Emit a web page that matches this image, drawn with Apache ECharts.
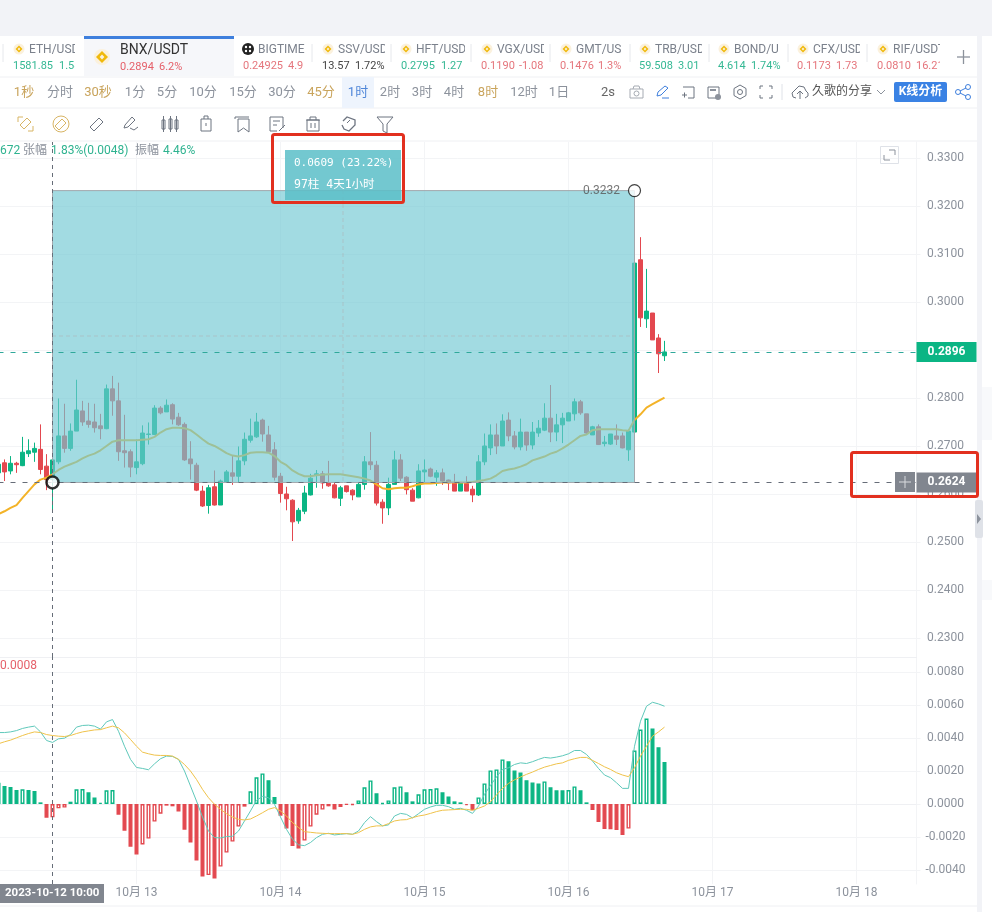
<!DOCTYPE html>
<html>
<head>
<meta charset="utf-8">
<style>html,body{margin:0;padding:0;background:#fff}#chart{width:992px;height:912px}</style>
<script src="https://cdn.jsdelivr.net/npm/echarts@6/dist/echarts.min.js"></script>
</head>
<body>
<div id="chart"></div>
<script>
// hourly candles, first one is 2023-10-12 01:00 (just off the left edge)
const opens = [
  .2644,.2665,.2648,.2664,.2659,.2684,.2687,.2693,.2658,.2630,
  .2667,.2721,.2695,.2731,.2773,.2752,.2750,.2742,.2736,.2819,
  .2794,.2690,.2688,.2655,.2663,.2724,.2724,.2779,.2771,.2786,
  .2760,.2745,.2673,.2660,.2606,.2576,.2615,.2577,.2625,.2644,
  .2637,.2669,.2712,.2719,.2754,.2723,.2692,.2637,.2600,.2587,
  .2544,.2564,.2598,.2639,.2642,.2623,.2619,.2591,.2617,.2608,
  .2594,.2620,.2667,.2660,.2583,.2571,.2620,.2671,.2635,.2608,
  .2592,.2646,.2652,.2635,.2644,.2629,.2623,.2606,.2622,.2610,
  .2598,.2667,.2696,.2723,.2700,.2754,.2721,.2698,.2729,.2702,
  .2727,.2733,.2758,.2729,.2744,.2752,.2767,.2792,.2767,.2723,
  .2740,.2705,.2704,.2721,.2721,.2692,.2729,.3088,.2965,.2977,.2925,.2888
];
const closes = [
  .2662,.2646,.2664,.2661,.2687,.2690,.2695,.2651,.2630,.2671,
  .2721,.2695,.2731,.2775,.2750,.2745,.2738,.2736,.2819,.2794,
  .2688,.2686,.2656,.2667,.2727,.2725,.2779,.2769,.2785,.2756,
  .2744,.2671,.2663,.2608,.2575,.2613,.2577,.2627,.2646,.2637,
  .2669,.2714,.2721,.2750,.2725,.2688,.2635,.2601,.2590,.2542,
  .2566,.2602,.2633,.2642,.2623,.2617,.2592,.2613,.2605,.2598,
  .2620,.2667,.2661,.2581,.2571,.2620,.2671,.2633,.2609,.2585,
  .2648,.2650,.2637,.2644,.2627,.2623,.2606,.2623,.2606,.2598,
  .2667,.2700,.2723,.2700,.2752,.2721,.2698,.2729,.2702,.2729,
  .2737,.2758,.2729,.2744,.2758,.2769,.2792,.2769,.2727,.2740,
  .2703,.2708,.2725,.2714,.2696,.2731,.3081,.2967,.2981,.2921,.2892,.2896
];
const lows = [
  .2630,.2627,.2641,.2644,.2658,.2677,.2667,.2641,.2608,.2561,
  .2662,.2686,.2690,.2731,.2742,.2738,.2728,.2714,.2735,.2763,
  .2669,.2655,.2635,.2641,.2660,.2703,.2724,.2766,.2771,.2745,
  .2742,.2669,.2630,.2606,.2573,.2559,.2576,.2577,.2624,.2619,
  .2624,.2660,.2707,.2717,.2709,.2686,.2628,.2582,.2566,.2502,
  .2538,.2558,.2597,.2613,.2611,.2615,.2591,.2575,.2603,.2587,
  .2594,.2609,.2650,.2576,.2538,.2556,.2620,.2627,.2599,.2585,
  .2591,.2624,.2635,.2617,.2619,.2608,.2606,.2606,.2606,.2583,
  .2596,.2660,.2681,.2683,.2700,.2710,.2693,.2691,.2690,.2693,
  .2719,.2731,.2708,.2710,.2706,.2752,.2753,.2765,.2724,.2723,
  .2702,.2699,.2702,.2702,.2695,.2669,.2729,.2948,.2946,.2921,.2852,.2877
];
const highs = [
  .2669,.2672,.2679,.2667,.2719,.2714,.2707,.2745,.2683,.2674,
  .2799,.2788,.2747,.2838,.2794,.2790,.2788,.2767,.2828,.2846,
  .2832,.2765,.2693,.2714,.2743,.2749,.2785,.2783,.2797,.2789,
  .2769,.2749,.2710,.2665,.2617,.2619,.2649,.2630,.2650,.2679,
  .2699,.2728,.2757,.2769,.2757,.2742,.2708,.2644,.2615,.2589,
  .2571,.2617,.2642,.2650,.2648,.2669,.2624,.2617,.2617,.2610,
  .2624,.2679,.2729,.2669,.2589,.2634,.2690,.2683,.2637,.2612,
  .2662,.2672,.2655,.2650,.2653,.2630,.2642,.2625,.2637,.2617,
  .2681,.2726,.2745,.2747,.2766,.2770,.2731,.2757,.2729,.2750,
  .2754,.2789,.2827,.2767,.2769,.2771,.2799,.2796,.2767,.2742,
  .2745,.2721,.2725,.2745,.2728,.2735,.3083,.3135,.3069,.2977,.2933,.2919
];
const maLine = [
  .2558,.2564,.2571,.2577,.2592,.2606,.2620,.2630,.2634,.2641,
  .2650,.2657,.2662,.2667,.2674,.2680,.2684,.2691,.2700,.2709,
  .2712,.2712,.2712,.2712,.2713,.2714,.2719,.2728,.2735,.2738,
  .2738,.2737,.2733,.2724,.2714,.2705,.2700,.2693,.2685,.2680,
  .2678,.2681,.2686,.2687,.2687,.2686,.2679,.2667,.2660,.2649,
  .2642,.2637,.2637,.2639,.2640,.2641,.2641,.2641,.2639,.2637,
  .2635,.2632,.2628,.2620,.2612,.2610,.2612,.2613,.2613,.2616,
  .2620,.2622,.2622,.2623,.2624,.2624,.2624,.2624,.2624,.2625,
  .2627,.2629,.2632,.2639,.2648,.2651,.2653,.2657,.2662,.2670,
  .2674,.2678,.2684,.2688,.2695,.2703,.2712,.2721,.2724,.2733,
  .2735,.2735,.2735,.2735,.2733,.2732,.2754,.2766,.2780,.2787,.2794,.2801
];
const macdHist = [
  .00129,.00109,.00103,.00085,.00089,.00085,.00079,.0001,-.00083,-.00081,
  -.00026,-.00022,.00014,.00089,.00091,.00071,.0004,.00008,.00083,.00085,
  -.00065,-.00162,-.00259,-.00307,-.00246,-.0021,-.00107,-.00059,-.0001,-.00014,
  -.00046,-.00156,-.00234,-.00343,-.0044,-.00432,-.00452,-.0038,-.00295,-.00228,
  -.00137,-.00016,.00077,.00162,.00186,.00145,.00042,-.00071,-.00149,-.00255,
  -.00271,-.00222,-.00137,-.00065,-.00034,-.00014,-.00034,-.00018,-.00004,-.00006,
  .00022,.00101,.00143,.00065,.00006,.00022,.00101,.00107,.00071,.00016,
  .00059,.00089,.00091,.00095,.00071,.00046,.00016,.0001,-.00008,-.00038,
  .0004,.00125,.00204,.0021,.00271,.00259,.00204,.00192,.00145,.00131,
  .00125,.00137,.00101,.00083,.00083,.00085,.00107,.00083,.0001,-.00036,
  -.00109,-.00152,-.00154,-.00158,-.00188,-.00149,.00325,.00452,.00519,.00459,.00345,.00255
];
const dif = [
  .00434,.00434,.00438,.00446,.00459,.00467,.00473,.00438,.00386,.00374,
  .00396,.004,.00422,.00467,.00477,.00479,.00473,.00455,.00499,.00513,
  .00442,.00351,.00271,.00222,.00216,.00208,.00244,.00275,.00291,.00289,
  .00271,.002,.00109,.00018,-.00079,-.00164,-.00204,-.00206,-.00198,-.00196,
  -.00164,-.00103,-.00042,.00022,.00046,.00038,-.00002,-.00079,-.00154,-.00214,
  -.00248,-.00253,-.00234,-.00204,-.00184,-.00178,-.00188,-.00184,-.0018,-.00184,
  -.00164,-.00113,-.00077,-.00107,-.00133,-.00127,-.00073,-.00057,-.00063,-.00085,
  -.00059,-.00032,-.00018,-.00008,-.00008,-.00016,-.00032,-.00026,-.00038,-.00057,
  -.00012,.00059,.00113,.00164,.0021,.0022,.0024,.0025,.00246,.00257,
  .00271,.00283,.00279,.00285,.00293,.00305,.00325,.00325,.00301,.00261,
  .00216,.00176,.0016,.00129,.00095,.00095,.00351,.00503,.00594,.00618,.00608,.00594
];
const dea = [
  .00366,.00378,.00388,.00402,.00416,.00428,.00438,.00434,.00422,.00416,
  .00412,.0041,.00416,.00428,.00438,.00444,.0045,.00452,.00463,.00473,
  .00463,.00432,.00392,.00351,.00315,.00305,.00297,.00295,.00295,.00291,
  .00271,.0024,.002,.00149,.00089,.00038,-.00002,-.00032,-.00059,-.00079,
  -.00093,-.00097,-.00091,-.00073,-.00053,-.00032,-.00022,-.00042,-.00073,-.00113,
  -.00143,-.00168,-.00172,-.00176,-.00178,-.0018,-.0018,-.0018,-.0018,-.00184,
  -.00174,-.00154,-.00139,-.00133,-.00133,-.00119,-.00103,-.00097,-.00095,-.00083,
  -.00073,-.00067,-.00057,-.00046,-.00038,-.00036,-.00034,-.00032,-.00032,-.00038,
  -.00026,-.00012,.00014,.00055,.00095,.00125,.00147,.00164,.0018,.00194,
  .0021,.00224,.00234,.00244,.0025,.00265,.00275,.00283,.00283,.00265,
  .00246,.00226,.0021,.0019,.00176,.00166,.0022,.00291,.00351,.00412,.00438,.00467
];
const priceTicks = [.23,.24,.25,.26,.27,.28,.29,.30,.31,.32,.33];
const macdTicks = [-.004,-.002,0,.002,.004,.006,.008];

const tabs = [
  {icon: 19, name: "ETH/USD", price: "1581.85", chg: "1.58", tx: 13, cx: 59, col: "#35b894", cut: 75},
  {icon: 248, name: "BIGTIME", price: "0.24925", chg: "4.9", tx: 243, cx: 288, col: "#e5757c", cut: 305},
  {icon: 328, name: "SSV/USD", price: "13.57", chg: "1.72%", tx: 322, cx: 355, col: "#444", cut: 385},
  {icon: 406, name: "HFT/USD", price: "0.2795", chg: "1.27", tx: 401, cx: 441, col: "#35b894", cut: 465},
  {icon: 487, name: "VGX/USD", price: "0.1190", chg: "-1.08", tx: 481, cx: 519, col: "#e5757c", cut: 544},
  {icon: 566, name: "GMT/US", price: "0.1476", chg: "1.3%", tx: 560, cx: 598, col: "#e5757c", cut: 622},
  {icon: 645, name: "TRB/USD", price: "59.508", chg: "3.01", tx: 639, cx: 678, col: "#35b894", cut: 702},
  {icon: 724, name: "BOND/U", price: "4.614", chg: "1.74%", tx: 718, cx: 751, col: "#35b894", cut: 781},
  {icon: 803, name: "CFX/USD", price: "0.1173", chg: "1.73", tx: 797, cx: 836, col: "#e5757c", cut: 860},
  {icon: 883, name: "RIF/USDT", price: "0.0810", chg: "16.21", tx: 877, cx: 916, col: "#e5757c", cut: 940}
];
const intervals = [
  ["1秒", 24, "#c9a45c"], ["分时", 60, "#8c929c"], ["30秒", 98, "#c9a45c"], ["1分", 135, "#8c929c"],
  ["5分", 167, "#8c929c"], ["10分", 203, "#8c929c"], ["15分", 243, "#8c929c"], ["30分", 282, "#8c929c"],
  ["45分", 321, "#c9a45c"], ["1时", 358, "#4f86d8"], ["2时", 390, "#8c929c"], ["3时", 422, "#8c929c"],
  ["4时", 454, "#8c929c"], ["8时", 488, "#c9a45c"], ["12时", 524, "#8c929c"], ["1日", 559, "#8c929c"]
];

const FONT = 'Roboto, "Noto Sans CJK SC", sans-serif';
const GREEN = "#0bb584", RED = "#e3484f";

// one category per hour up to the right edge of the plot
const categories = Array.from({length: 154}, (_, i) => {
  const h = i + 1;
  const d = 12 + Math.floor(h / 24);
  return "2023-10-" + d + " " + String(h % 24).padStart(2, "0") + ":00";
});
const isMidnight = (idx, v) => v.endsWith(" 00:00");
const CROSS = categories[9];

const ohlc = opens.map((o, i) => [o, closes[i], lows[i], highs[i]]);

// hollow bar when the histogram rises against the previous hour
const histData = macdHist.map((v, i) => {
  const col = v >= 0 ? GREEN : RED;
  const hollow = i > 0 && v > macdHist[i - 1];
  return {value: v, itemStyle: {color: hollow ? "#fff" : col, borderColor: col, borderWidth: 1.4}};
});

// chrome helpers
const T = (text, x, y, fill, size = 12, extra = {}) => ({type: "text", z: 20, style: {
  text, x, y: y + 1, fill, font: (extra.bold ? "bold " : "") + size + "px " + (extra.font || FONT),
  textAlign: extra.align || "left", textVerticalAlign: "middle"}});
const R = (x, y, w, h, fill, stroke, lw = 1, z = 20) => ({type: "rect", z,
  shape: {x, y, width: w, height: h}, style: {fill: fill || null, stroke: stroke || null, lineWidth: lw}});
const C = (cx, cy, r, fill, stroke, lw = 1) => ({type: "circle", z: 20,
  shape: {cx, cy, r}, style: {fill: fill || null, stroke: stroke || null, lineWidth: lw}});
const L = (points, stroke, lw = 1, dash) => ({type: "polyline", z: 20, shape: {points},
  style: {stroke, lineWidth: lw, fill: null, lineDash: dash || null}});
const coin = (x, y, r) => [
  C(x, y, r + 2, "#fbf1dd"),
  {type: "polygon", z: 20, shape: {points: [[x, y - r], [x + r, y], [x, y + r], [x - r, y]]}, style: {fill: "#f0b90b"}},
  {type: "polygon", z: 20, shape: {points: [[x, y - r * .4], [x + r * .4, y], [x, y + r * .4], [x - r * .4, y]]}, style: {fill: "#fbf1dd"}}
];

const ICON = "#6d7480", GOLD = "#d8b565", BLUE = "#3f7fdd";
const g = [];
g.push(R(0, 0, 992, 36, "#f2f3f7"));
g.push(R(977, 36, 5, 876, "#f2f3f7"));
g.push(R(982, 387, 10, 53, "#f8f9fb"), R(982, 580, 10, 20, "#f8f9fb"));
g.push({type: "rect", z: 21, shape: {x: 975, y: 500, width: 8, height: 38, r: 2}, style: {fill: "#dfe2e8"}});
g.push({type: "polygon", z: 21, shape: {points: [[977, 514], [981, 519], [977, 524]]}, style: {fill: "#8c929c"}});

// tab strip
g.push(R(84, 36, 150, 40, "#f6f7fa"), R(84, 36, 150, 3, BLUE));
tabs.forEach(t => {
  if (t.name === "BIGTIME") {
    g.push(C(t.icon, 49, 6, "#222"), C(t.icon - 2, 47, 1.2, "#fff"), C(t.icon + 2, 47, 1.2, "#fff"), C(t.icon - 2, 51, 1.2, "#fff"), C(t.icon + 2, 51, 1.2, "#fff"));
  } else {
    g.push(...coin(t.icon, 49, 3.5));
  }
  g.push(T(t.name, t.icon + 10, 49, "#7b818c"), T(t.price, t.tx, 65, t.col, 11), T(t.chg, t.cx, 65, t.col, 11));
  g.push(R(t.cut, 40, 6, 32, "#fff"));
});
[3, 312, 391, 471, 550, 630, 709, 788, 867].forEach(x => g.push(L([[x, 44], [x, 62]], "#e6e8ec")));
g.push(...coin(102, 57, 6));
g.push(T("BNX/USDT", 120, 49, "#333", 14), T("0.2894", 120, 66, "#e5606a", 11), T("6.2%", 159, 66, "#e5606a", 11));
g.push(L([[957, 57], [970, 57]], "#8c929c", 1.3), L([[963.5, 50], [963.5, 64]], "#8c929c", 1.3));

// interval row
g.push(L([[0, 77], [977, 77]], "#eff0f3"), L([[0, 108], [977, 108]], "#eff0f3"), L([[0, 141], [977, 141]], "#eff0f3"));
g.push(R(342, 77, 32, 31, "#eef4fd"));
intervals.forEach(a => g.push(T(a[0], a[1], 92, a[2], 13, {align: "center"})));
g.push(T("2s", 608, 92, "#666", 13, {align: "center"}));
g.push(R(630, 89, 13, 9, null, "#a6abb3"), C(636.5, 93.5, 2.5, null, "#a6abb3"), L([[633, 89], [634, 86], [639, 86], [640, 89]], "#a6abb3"));
g.push(L([[657, 96], [658, 92], [665, 86], [668, 88], [661, 95], [657, 96]], BLUE), L([[662, 98], [669, 98]], BLUE));
g.push(L([[683, 87], [694, 87], [694, 98], [688, 98]], ICON), L([[682, 95], [687, 95]], ICON), L([[684.5, 92.5], [684.5, 97.5]], ICON));
g.push(R(708, 87, 11, 11, null, ICON), R(710, 89, 6, 2, "#8c929c"), C(718, 97, 3, "#8c929c"));
g.push(L([[740, 85], [746, 88.5], [746, 95.5], [740, 99], [734, 95.5], [734, 88.5], [740, 85]], ICON), C(740, 92, 2.5, null, ICON));
g.push(L([[760, 89], [760, 86], [763, 86]], ICON), L([[769, 86], [772, 86], [772, 89]], ICON), L([[760, 95], [760, 98], [763, 98]], ICON), L([[769, 98], [772, 98], [772, 95]], ICON));
g.push(L([[782, 84], [782, 100]], "#dfe2e8"));
g.push(L([[796, 98], [793, 97], [792, 93], [795, 90], [799, 86], [804, 87], [806, 91], [808, 93], [808, 96], [805, 98]], ICON), L([[800, 99], [800, 92]], ICON), L([[797, 94], [800, 91], [803, 94]], ICON));
g.push(T("久歌的分享", 812, 91, "#555", 12));
g.push(L([[877, 90], [881, 94], [885, 90]], "#8c929c"));
g.push({type: "rect", z: 20, shape: {x: 894, y: 82, width: 53, height: 20, r: 2}, style: {fill: "#3a82e4"}});
g.push(T("K线分析", 920.5, 91, "#fff", 12, {align: "center", bold: true}));
g.push(C(958, 92, 2.5, null, BLUE), C(968, 87, 2.5, null, BLUE), C(968, 97, 2.5, null, BLUE), L([[966, 88], [960, 91]], BLUE), L([[960, 93], [966, 96]], BLUE));

// drawing tools row
g.push(L([[18, 122], [18, 117], [23, 117]], GOLD), L([[28, 131], [33, 131], [33, 126]], GOLD), L([[20, 125], [27, 118], [31, 122], [24, 129], [20, 125]], GOLD));
g.push(C(61, 124, 8, null, GOLD), L([[55, 126], [62, 119], [66, 123], [59, 130], [55, 126]], GOLD));
g.push(L([[90, 127], [99, 118], [103, 122], [94, 131], [90, 127]], ICON));
g.push(L([[124, 128], [125, 125], [132, 117], [135, 120], [128, 127], [124, 128]], ICON), L([[130, 128], [134, 130], [138, 127]], ICON));
g.push(R(162, 120, 3, 9, null, ICON), R(169, 119, 3, 10, null, ICON), R(175, 120, 3, 9, null, ICON), L([[163.5, 116], [163.5, 132]], ICON), L([[170.5, 116], [170.5, 132]], ICON), L([[176.5, 116], [176.5, 132]], ICON));
g.push(R(201, 119, 10, 12, null, ICON), L([[204, 119], [204, 116], [208, 116], [208, 119]], ICON), L([[206, 123], [206, 126]], ICON));
g.push(L([[235, 119], [235, 117], [249, 117]], ICON), L([[238, 119], [249, 119], [249, 132], [243.5, 128], [238, 132], [238, 119]], ICON));
g.push(L([[283, 128], [283, 117], [270, 117], [270, 131], [277, 131]], ICON), L([[273, 121], [280, 121]], ICON), L([[273, 125], [277, 125]], ICON), L([[279, 131], [285, 125]], ICON));
g.push(L([[306, 120], [320, 120]], ICON), L([[310, 120], [310, 117], [316, 117], [316, 120]], ICON), R(307, 120, 12, 11, null, ICON), L([[311, 123], [311, 128]], ICON), L([[315, 123], [315, 128]], ICON));
g.push(L([[343, 121], [347, 117], [355, 120], [355, 125], [349, 131], [344, 129], [342, 125]], ICON, 1.3), L([[347, 123], [350, 120]], ICON));
g.push(L([[377, 117], [393, 117], [387, 124], [387, 133], [383, 131], [383, 124], [377, 117]], ICON));

// info lines
g.push(T("672", 0, 150, "#2fb390"), T("张幅", 23, 150, "#8c929c"), T("1.83%(0.0048)", 51, 150, "#2fb390"), T("振幅", 135, 150, "#8c929c"), T("4.46%", 163, 150, "#2fb390"));
g.push(T("0.0008", 0, 665, "#e5606a"));
g.push(R(880.5, 146.5, 18, 17, null, "#dfe2e8"), L([[889, 150], [895, 150], [895, 155]], "#8c929c"), L([[884, 155], [884, 160], [890, 160]], "#8c929c"));

// mid cross of the range tool
g.push(L([[52, 336], [634, 336]], "rgba(180,150,150,.35)", 1, [4, 3]), L([[343, 190], [343, 482]], "rgba(180,150,150,.35)", 1, [4, 3]));

// range readout box
g.push(R(285, 150, 116, 50, "rgba(90,190,200,.85)"));
g.push(T("0.0609 (23.22%)", 294, 162, "#fff", 11, {font: '"DejaVu Sans Mono", monospace'}));
g.push(T("97柱 4天1小时", 294, 184, "#fff", 11.5, {font: '"DejaVu Sans Mono", "Noto Sans CJK SC", monospace'}));

// crosshair readouts
g.push(R(895, 472, 20, 20, "#81868f"), L([[899, 482], [911, 482]], "#d8dade"), L([[905, 476], [905, 488]], "#d8dade"));
g.push(R(0, 884, 104, 19, "#81868f"), T("2023-10-12 10:00", 5, 892, "#fff", 11.5, {bold: true}));
g.push(L([[0, 906], [977, 906]], "#eff0f3"));

// red annotation frames
g.push({type: "rect", z: 30, shape: {x: 272.5, y: 134.5, width: 131, height: 68, r: 2}, style: {fill: null, stroke: "#e2301f", lineWidth: 3}});
g.push({type: "rect", z: 30, shape: {x: 851.5, y: 452.5, width: 126, height: 44, r: 2}, style: {fill: null, stroke: "#e2301f", lineWidth: 3}});

const axisFont = {color: "#8c929c", fontSize: 12, fontFamily: FONT};
const faint = {lineStyle: {color: "#f3f4f6", width: 1}};
const crossLine = {silent: true, symbol: "none", label: {show: false},
  lineStyle: {color: "#666d78", type: [4, 4], width: 1}, data: [{xAxis: CROSS}]};

// price flag pinned to the axis end of a horizontal marker line
const flag = (value, color) => ({
  yAxis: value,
  lineStyle: {color: color === GREEN ? "#2fa89a" : "#666d78", type: [5, 7], width: 1},
  label: {show: true, position: "end", distance: 0, align: "left", verticalAlign: "middle",
    formatter: "{a|" + value.toFixed(4) + "}",
    rich: {a: {width: 60, height: 20, lineHeight: 20, align: "center", color: "#fff", fontWeight: "bold",
      fontSize: 12, fontFamily: FONT, backgroundColor: color}}}
});

function yAxisOf(gridIndex, min, max, ticks) {
  return {
    type: "value", gridIndex, position: "right", scale: true, min, max,
    axisLine: {show: true, lineStyle: {color: "#f3f4f6"}},
    axisTick: {show: true, length: 4, customValues: ticks, lineStyle: {color: "#f3f4f6"}},
    axisLabel: Object.assign({customValues: ticks, align: "center", margin: 29, formatter: v => v.toFixed(4)}, axisFont),
    splitLine: Object.assign({show: true}, faint)
  };
}

const chart = echarts.init(document.getElementById("chart"));
chart.setOption({
  animation: false,
  backgroundColor: "#fff",
  textStyle: {fontFamily: FONT},
  grid: [
    {left: -1.5, width: 918, top: 142, height: 515, outerBoundsMode: "none"},
    {left: -1.5, width: 918, top: 657, height: 227, outerBoundsMode: "none"}
  ],
  xAxis: [
    {type: "category", gridIndex: 0, data: categories, boundaryGap: false,
      axisLine: {show: true, lineStyle: {color: "#eff0f3"}}, axisTick: {show: false}, axisLabel: {show: false},
      splitLine: Object.assign({show: true, interval: isMidnight}, faint)},
    {type: "category", gridIndex: 1, data: categories, boundaryGap: false,
      axisLine: {show: true, lineStyle: {color: "#eff0f3"}}, axisTick: {show: false},
      axisLabel: Object.assign({interval: isMidnight, hideOverlap: false, margin: 3,
        formatter: v => "10月 " + v.slice(8, 10)}, axisFont),
      splitLine: Object.assign({show: true, interval: isMidnight}, faint)}
  ],
  yAxis: [
    yAxisOf(0, .22604, .33333, priceTicks),
    yAxisOf(1, -.00486, .00893, macdTicks)
  ],
  series: [
    {
      type: "candlestick", xAxisIndex: 0, yAxisIndex: 0, data: ohlc, barWidth: 4, z: 2,
      itemStyle: {color: GREEN, color0: RED, borderColor: GREEN, borderColor0: RED, borderWidth: 1},
      // measuring range
      markArea: {silent: true, z: 6,
        itemStyle: {color: "rgba(112,200,210,.65)", borderColor: "#a3a8ad", borderWidth: 1},
        data: [[{xAxis: CROSS, yAxis: .2624}, {xAxis: categories[106], yAxis: .3232}]]},
      markLine: {silent: true, symbol: "none", z: 7, precision: 4,
        data: [
          flag(.2896, GREEN),
          flag(.2624, "#81868f"),
          {xAxis: CROSS, label: {show: false}, lineStyle: {color: "#666d78", type: [4, 4], width: 1}}
        ]}
    },
    {type: "line", xAxisIndex: 0, yAxisIndex: 0, data: maLine, symbol: "none", z: 3,
      lineStyle: {color: "#f3b328", width: 2}},
    {type: "scatter", xAxisIndex: 0, yAxisIndex: 0, symbol: "circle", z: 8, silent: true,
      data: [
        {value: [CROSS, .2624], symbolSize: 12, itemStyle: {color: "#fff", borderColor: "#000", borderWidth: 2.5}},
        {value: [categories[106], .3232], symbolSize: 12, itemStyle: {color: "#fff", borderColor: "#111", borderWidth: 1.2},
          label: {show: true, position: "left", distance: 8, formatter: "0.3232", color: "#555", fontSize: 12, fontFamily: FONT}}
      ]},
    {type: "bar", xAxisIndex: 1, yAxisIndex: 1, data: histData, barWidth: 4, z: 2, markLine: crossLine},
    {type: "line", xAxisIndex: 1, yAxisIndex: 1, data: dif, symbol: "none", z: 3,
      lineStyle: {color: "#5fc8ba", width: 1}},
    {type: "line", xAxisIndex: 1, yAxisIndex: 1, data: dea, symbol: "none", z: 3,
      lineStyle: {color: "#efc24a", width: 1}}
  ],
  graphic: {elements: g}
});
</script>
</body>
</html>
